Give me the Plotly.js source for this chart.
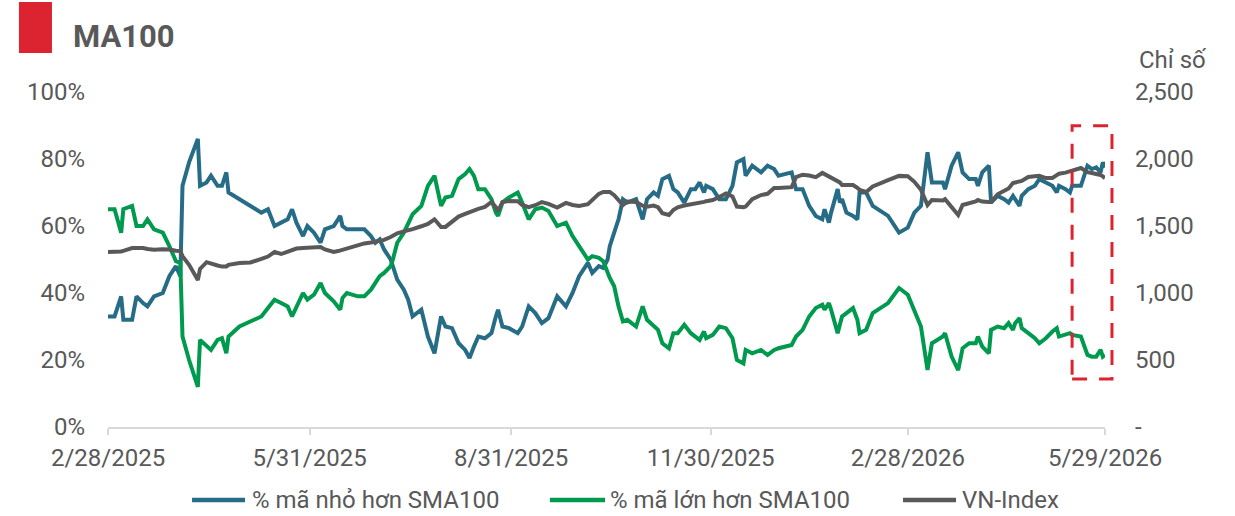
<!DOCTYPE html>
<html>
<head>
<meta charset="utf-8">
<script src="https://cdn.plot.ly/plotly-3.0.1.min.js"></script>
<style>
  html, body { margin: 0; padding: 0; background: #ffffff; }
  #chart { width: 1235px; height: 516px; }
</style>
</head>
<body>
<div id="chart"></div>
<script>
// ---- Data ----
const dates = [
  '2025-02-28','2025-03-03','2025-03-06','2025-03-07','2025-03-11','2025-03-13','2025-03-16','2025-03-18','2025-03-21','2025-03-25',
  '2025-03-28','2025-03-31','2025-04-02','2025-04-03','2025-04-06','2025-04-10','2025-04-11','2025-04-14','2025-04-16','2025-04-19',
  '2025-04-21','2025-04-23','2025-04-24','2025-04-29','2025-05-04','2025-05-07','2025-05-09','2025-05-12','2025-05-15','2025-05-18',
  '2025-05-21','2025-05-23','2025-05-25','2025-05-28','2025-05-30','2025-06-02','2025-06-05','2025-06-07','2025-06-11','2025-06-13',
  '2025-06-14','2025-06-15','2025-06-17','2025-06-22','2025-06-25','2025-06-28','2025-06-30','2025-07-02','2025-07-04','2025-07-07',
  '2025-07-08','2025-07-10','2025-07-13','2025-07-15','2025-07-17','2025-07-21','2025-07-24','2025-07-27','2025-07-30','2025-08-01',
  '2025-08-04','2025-08-07','2025-08-10','2025-08-12','2025-08-14','2025-08-16','2025-08-19','2025-08-22','2025-08-24','2025-08-25',
  '2025-08-27','2025-08-30','2025-09-03','2025-09-05','2025-09-08','2025-09-11','2025-09-14','2025-09-17','2025-09-21','2025-09-25',
  '2025-09-28','2025-10-01','2025-10-05','2025-10-07','2025-10-10','2025-10-12','2025-10-14','2025-10-15','2025-10-17','2025-10-19',
  '2025-10-21','2025-10-23','2025-10-27','2025-10-30','2025-11-01','2025-11-04','2025-11-06','2025-11-08','2025-11-11','2025-11-13',
  '2025-11-15','2025-11-18','2025-11-21','2025-11-23','2025-11-25','2025-11-27','2025-11-28','2025-12-01','2025-12-04','2025-12-07',
  '2025-12-10','2025-12-12','2025-12-15','2025-12-16','2025-12-19','2025-12-23','2025-12-26','2025-12-29','2025-12-31','2026-01-06',
  '2026-01-08','2026-01-11','2026-01-14','2026-01-17','2026-01-20','2026-01-21','2026-01-23','2026-01-24','2026-01-27','2026-01-28',
  '2026-01-29','2026-01-31','2026-02-03','2026-02-05','2026-02-06','2026-02-09','2026-02-12','2026-02-19','2026-02-24','2026-02-28',
  '2026-03-03','2026-03-06','2026-03-09','2026-03-11','2026-03-16','2026-03-17','2026-03-20','2026-03-23','2026-03-25','2026-03-28',
  '2026-03-31','2026-04-01','2026-04-03','2026-04-06','2026-04-07','2026-04-10','2026-04-13','2026-04-15','2026-04-17','2026-04-18',
  '2026-04-20','2026-04-21','2026-04-24','2026-04-27','2026-04-29','2026-05-02','2026-05-05','2026-05-07','2026-05-08','2026-05-11',
  '2026-05-13','2026-05-14','2026-05-18','2026-05-21','2026-05-23','2026-05-25','2026-05-27','2026-05-28','2026-05-29'
];

// % of stocks below SMA100
const pctBelow = [
  33,33,39,32,32,39,37,36,39,40,
  45,48,45,72,79,86,72,73,75,72,
  72,76,70,68,66,65,64,65,60,61,
  62,65,61,57,60,58,55,59,60,62,
  63,60,59,59,59,57,55,56,53,50,
  48,44,41,38,33,35,27,22,33,30,
  29.5,25,23,20.6,24,27,26.5,28,33,35,
  30,29.5,28,30,36,34,31,32.5,39,36,
  40,45,49,46,48,47.5,50,54,58,62,
  68,67,68,62,68,70,69,74,75,71,
  70,67,71,71,73,70,72,71,68,68,
  72,79,80,75,78,76,78,77,75,76,
  71,71,66,63,62,65,61,64,71,67,
  68,64,63,62,70,70,66,63,58,59.5,
  64,66,82,73,73,71,78,82,76,74,
  74,72,76,78,67,69,68,67,69,68,
  66,69,71,72,74,73,72,70,72,71,
  70,72,72,78,77,77.5,76,79,77.5
];

// % of stocks above SMA100
const pctAbove = [
  65,65,58,65,66,60,60,62,59,58,
  54,49.5,49,27,20,12,26,24,23,26,
  26.5,22,27,30,31.5,32.5,33,35.5,38,37,
  36,33,36,40,38,39.5,43,40,37.5,35.5,
  35,38.5,40,39,39,41,43,45,46,48,
  50,55,58,60.5,63.5,66,72,75,66,68.5,
  69,74,75.5,77,75,71,71,68,64,63,
  67,68.5,70,67,62,65,65.5,64.5,60,61,
  57,54,50,51,50.5,49.5,46,44.5,42,36,
  31.5,32,30,36,32,30,29,25,23.5,28,
  28,30.5,28,27,26,28.5,26.5,27.5,30,29.5,
  26.5,20,19,23,22,23,21.5,23,23.5,24.5,
  27,29,33,35.5,36.5,35,37,35,28,30.5,
  33,34,35.5,32,28,29,34,37,41.5,39.5,
  35,30,17,25,27,28,21,17,23.5,25,
  25,27,24,22,29,30,29.5,31,29,31,
  32.5,29.5,28,26.5,25,26.5,28.5,29.5,27,27.5,
  28,27.5,27,21.5,21,21,23,21,21.5
];

// VN-Index level
const vnIndex = [
  1306,1306,1310,1315,1336,1336,1336,1328,1322,1326,
  1325,1316,1313,1275,1210,1097,1180,1230,1218,1205,
  1197,1198,1210,1224,1228,1239,1254,1272,1306,1291,
  1310,1324,1332,1336,1336,1340,1343,1325,1306,1313,
  1318,1323,1336,1355,1370,1377,1385,1391,1396,1418,
  1430,1445,1460,1467,1477,1498,1516,1550,1493,1493,
  1530,1570,1590,1605,1619,1628,1642,1679,1640,1610,
  1679,1686,1685,1657,1640,1655,1679,1665,1638,1672,
  1657,1650,1663,1690,1740,1754,1754,1754,1730,1690,
  1657,1682,1680,1652,1644,1652,1640,1595,1582,1620,
  1640,1653,1660,1665,1672,1680,1685,1694,1716,1743,
  1720,1645,1640,1645,1700,1731,1740,1784,1784,1790,
  1865,1883,1877,1865,1896,1887,1875,1868,1840,1825,
  1806,1806,1806,1785,1770,1754,1795,1843,1874,1872,
  1830,1770,1657,1694,1690,1700,1645,1582,1657,1668,
  1683,1694,1682,1679,1679,1737,1762,1780,1821,1825,
  1830,1836,1866,1870,1875,1858,1858,1880,1890,1898,
  1905,1913,1933,1902,1896,1892,1881,1870,1858
];

const seriesNames = ['% mã nhỏ hơn SMA100', '% mã lớn hơn SMA100', 'VN-Index'];
const xTickVals = ['2025-02-28','2025-05-31','2025-08-31','2025-11-30','2026-02-28','2026-05-29'];
const xTickText = ['2/28/2025','5/31/2025','8/31/2025','11/30/2025','2/28/2026','5/29/2026'];
const yLeftTicks = [0,20,40,60,80,100];
const yLeftText = ['0%','20%','40%','60%','80%','100%'];
const yRightTicks = [0,500,1000,1500,2000,2500];
const yRightText = ['-','500','1,000','1,500','2,000','2,500'];

// ---- Style ----
const FONT = 'Roboto, "Open Sans", sans-serif';
const TXT = '#595959';
const BLUE = '#276c87';
const GREEN = '#009a4e';
const GREY = '#595959';
const RED = '#dc2430';
const colors = [BLUE, GREEN, GREY];

const traces = [
  { x: dates, y: pctBelow, name: seriesNames[0], type: 'scatter', mode: 'lines',
    line: { color: BLUE, width: 4 }, yaxis: 'y' },
  { x: dates, y: pctAbove, name: seriesNames[1], type: 'scatter', mode: 'lines',
    line: { color: GREEN, width: 4 }, yaxis: 'y' },
  { x: dates, y: vnIndex, name: seriesNames[2], type: 'scatter', mode: 'lines',
    line: { color: GREY, width: 4 }, yaxis: 'y2' }
];

// legend drawn below the plot (line sample + label per series)
const legendY = -0.218;
const legendSampleX = [[0.0843, 0.1374], [0.4433, 0.4985], [0.7974, 0.8506]];
const legendTextX = [0.1424, 0.5015, 0.8546];

const legendShapes = seriesNames.map((n, i) => ({
  type: 'line', xref: 'paper', yref: 'paper',
  x0: legendSampleX[i][0], x1: legendSampleX[i][1], y0: legendY, y1: legendY,
  line: { color: colors[i], width: 4.5 }
}));
const legendTexts = seriesNames.map((n, i) => ({
  text: n, xref: 'paper', yref: 'paper', x: legendTextX[i], y: legendY,
  xanchor: 'left', yanchor: 'middle', showarrow: false,
  font: { family: FONT, size: 24, color: TXT }
}));

const layout = {
  width: 1235, height: 516,
  margin: { l: 108, r: 130, t: 92, b: 89, autoexpand: false },
  paper_bgcolor: '#ffffff', plot_bgcolor: '#ffffff',
  font: { family: FONT, size: 24, color: TXT },
  showlegend: false,
  title: {
    text: '<b>MA100</b>',
    font: { family: FONT, size: 31, color: TXT },
    xref: 'container', yref: 'container',
    x: 73 / 1235, xanchor: 'left',
    y: 1 - 36 / 516, yanchor: 'middle'
  },
  xaxis: {
    type: 'date',
    range: ['2025-02-28', '2026-05-29'],
    tickmode: 'array', tickvals: xTickVals, ticktext: xTickText,
    showgrid: false, zeroline: false,
    showline: true, linecolor: '#d9d9d9', linewidth: 1.5,
    ticks: 'outside', ticklen: 6, tickwidth: 1.5, tickcolor: '#d9d9d9',
    ticklabelstandoff: 2, automargin: false,
    tickfont: { family: FONT, size: 24, color: TXT }
  },
  yaxis: {
    range: [0, 100], tickmode: 'array', tickvals: yLeftTicks, ticktext: yLeftText,
    showgrid: false, zeroline: false, showline: false, ticks: '',
    ticklabelstandoff: 22, automargin: false,
    tickfont: { family: FONT, size: 24, color: TXT }
  },
  yaxis2: {
    overlaying: 'y', side: 'right',
    range: [0, 2500], tickmode: 'array', tickvals: yRightTicks, ticktext: yRightText,
    showgrid: false, zeroline: false, showline: false, ticks: '',
    ticklabelstandoff: 29, automargin: false,
    tickfont: { family: FONT, size: 24, color: TXT }
  },
  annotations: [
    { text: 'Chỉ số', xref: 'paper', yref: 'paper', x: 1.032, y: 1.0955,
      xanchor: 'left', yanchor: 'middle', showarrow: false,
      font: { family: FONT, size: 24, color: TXT } }
  ].concat(legendTexts),
  shapes: [
    // red title block
    { type: 'rect', xref: 'paper', yref: 'paper',
      x0: -0.0893, x1: -0.0562, y0: 1.1164, y1: 1.2687,
      fillcolor: RED, line: { width: 0 } },
    // dashed highlight box over the latest period
    { type: 'rect', xref: 'paper', yref: 'paper',
      x0: 0.967, x1: 1.007, y0: 0.143, y1: 0.899,
      fillcolor: 'rgba(0,0,0,0)',
      line: { color: RED, width: 3, dash: '15px,12px' } }
  ].concat(legendShapes)
};

Plotly.newPlot('chart', traces, layout, { displayModeBar: false, responsive: false });
</script>
</body>
</html>
